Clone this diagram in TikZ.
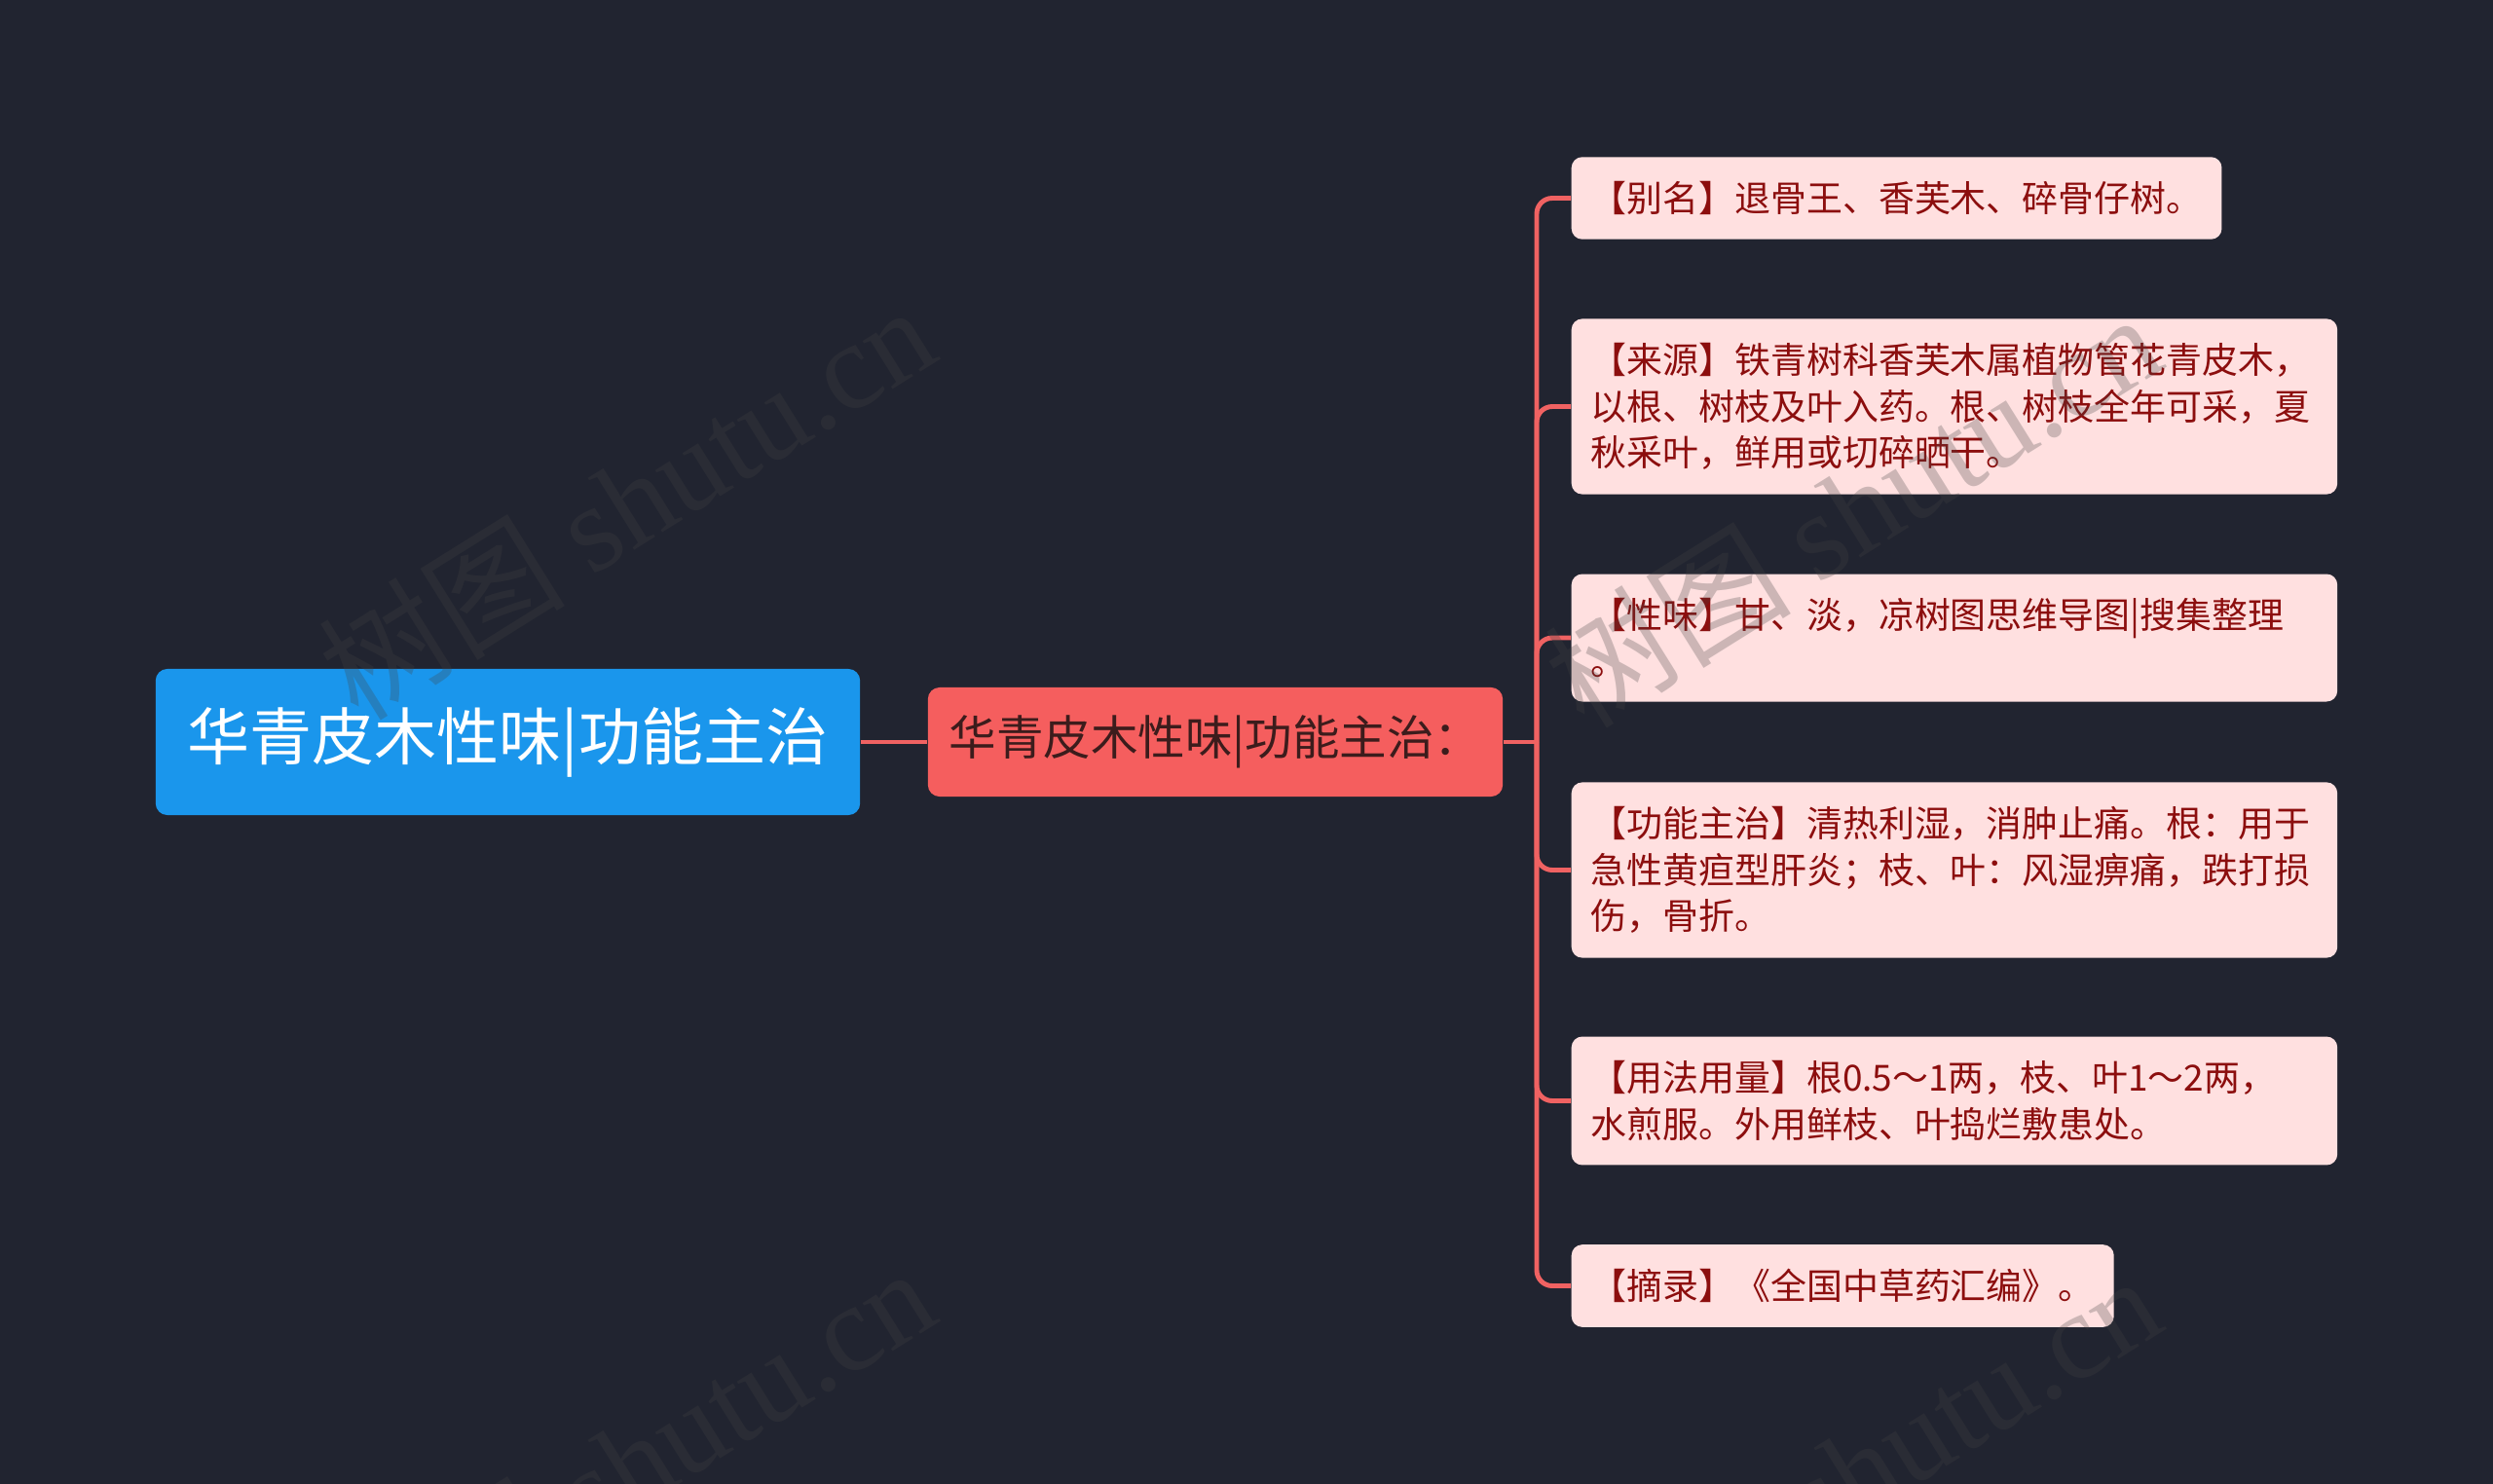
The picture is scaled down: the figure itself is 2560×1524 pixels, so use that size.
\documentclass[tikz,border=0pt]{standalone}
\usepackage{fontspec}
\setmainfont{Noto Sans CJK SC}
\newfontfamily\wmserif{Liberation Serif}
\usepackage{xcolor}
\usepackage{tikz}
\usetikzlibrary{arrows.meta, positioning}

\definecolor{bgc}{RGB}{33,36,48}
\definecolor{rootc}{RGB}{26,150,236}
\definecolor{subc}{RGB}{245,94,94}
\definecolor{subtext}{RGB}{60,28,28}
\definecolor{leafc}{RGB}{255,224,224}
\definecolor{leaftext}{RGB}{140,14,14}
\definecolor{wirec}{RGB}{240,98,98}
\definecolor{wmc}{RGB}{67,67,67}

\tikzset{
	rootbox/.style={fill=rootc, rounded corners=0.12cm, text=white, inner sep=0pt,
		font=\fontsize{18.2}{22}\selectfont, minimum width=7.23cm, minimum height=1.5cm},
	subbox/.style={fill=subc, rounded corners=0.12cm, text=subtext, inner sep=0pt,
		font=\fontsize{13.8}{17}\selectfont, minimum width=5.9cm, minimum height=1.12cm},
	leafbox/.style={fill=leafc, rounded corners=0.11cm, text=leaftext, anchor=west, align=left,
		font=\fontsize{10.5}{13.5}\selectfont, inner xsep=0.2cm, inner ysep=0.25cm},
	wideleaf/.style={leafbox, text width=7.46cm},
	wire/.style={draw=wirec, line width=1.4pt, rounded corners=0.16cm},
	wmark/.style={text=wmc, text opacity=0.27, rotate=32, font=\fontsize{36}{40}\selectfont},
}

\begin{document}
\begin{tikzpicture}[x=0.01cm, y=-0.01cm]
		% Background:
		\fill[bgc] (0,0) rectangle (2560,1524);
		\useasboundingbox (0,0) rectangle (2560,1524);
		\clip (0,0) rectangle (2560,1524);
		% Nodes:
		\node[rootbox](R1) at (521.5, 762){华青皮木性味|功能主治};
		\node[subbox](S1) at (1248, 762){华青皮木性味|功能主治：};
		\node[leafbox](L1) at (1613, 203.5){【别名】退骨王、香芙木、碎骨仔树。};
		\node[wideleaf](L2) at (1613, 417.5){【来源】铁青树科香芙木属植物管花青皮木，\\以根、树枝及叶入药。根、树枝全年可采，夏\\秋采叶，鲜用或切碎晒干。};
		\node[wideleaf](L3) at (1613, 655){【性味】甘、淡，凉树图思维导图|搜集整理\\。};
		\node[wideleaf](L4) at (1613, 893.5){【功能主治】清热利湿，消肿止痛。根：用于\\急性黄疸型肝炎；枝、叶：风湿痹痛，跌打损\\伤，骨折。};
		\node[wideleaf](L5) at (1613, 1130.5){【用法用量】根0.5～1两，枝、叶1～2两，\\水煎服。外用鲜枝、叶捣烂敷患处。};
		\node[leafbox](L6) at (1613, 1320.5){【摘录】《全国中草药汇编》。};
		% Wires:
		\coordinate (H1) at (1578, 762);
		\draw[wire] (R1.east) -- (S1.west);
		\draw[wire] (S1.east) -- (H1);
		\foreach \n in {1,...,6}
			\draw[wire] (H1) |- (L\n.west);
		% Watermarks:
		\node[wmark](W1) at (643, 514){树图 {\wmserif shutu.cn}};
		\node[wmark](W2) at (1902, 522){树图 {\wmserif shutu.cn}};
		\node[wmark](W3) at (643, 1502){树图 {\wmserif shutu.cn}};
		\node[wmark](W4) at (1902, 1510){树图 {\wmserif shutu.cn}};
	\end{tikzpicture}
\end{document}
